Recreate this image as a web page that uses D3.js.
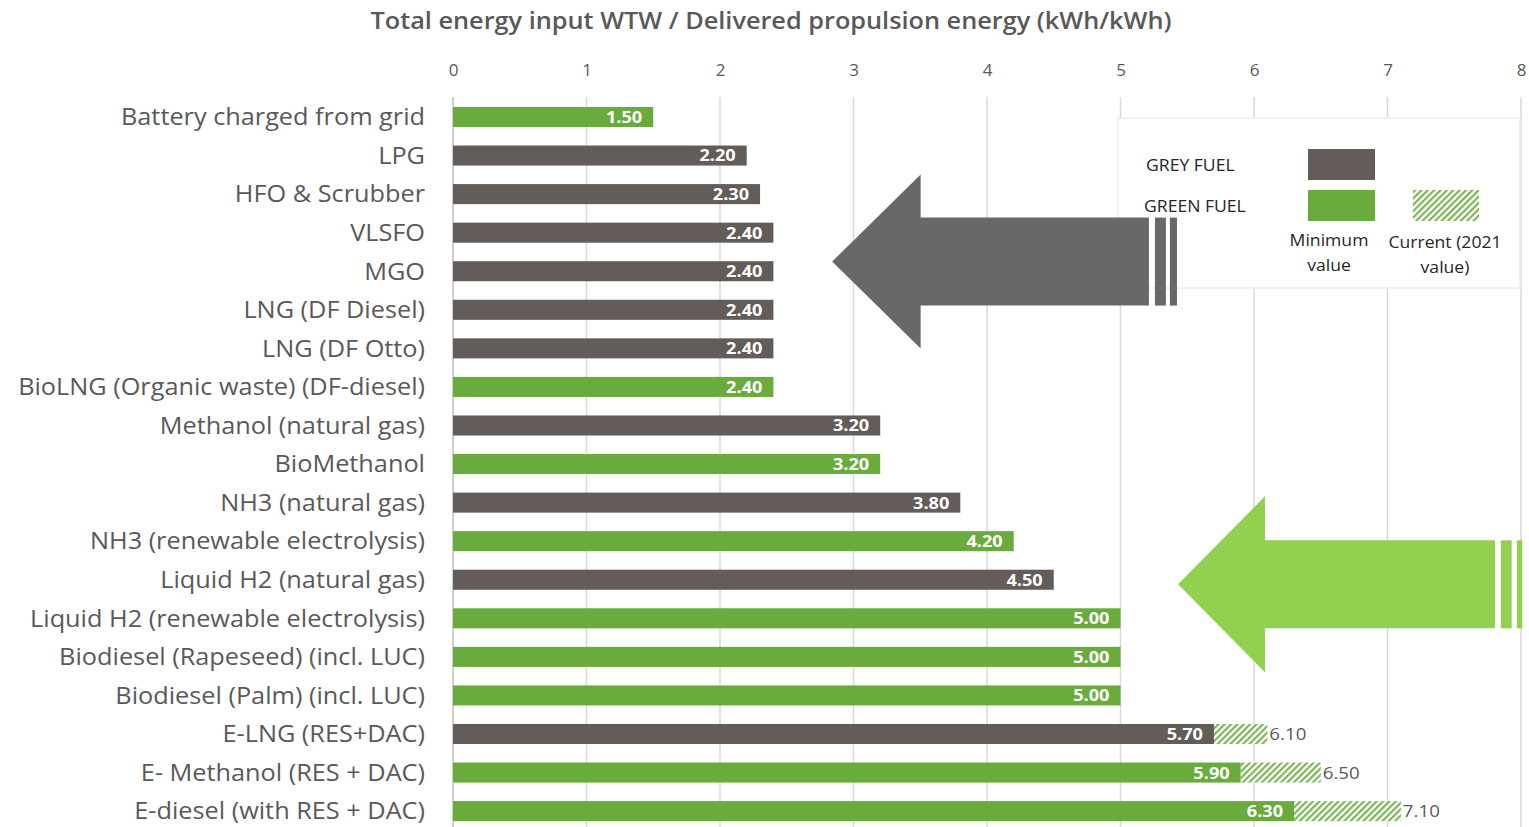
<!DOCTYPE html>
<html>
<head>
<meta charset="utf-8">
<script src="https://cdn.jsdelivr.net/npm/d3@7"></script>
<style>
  body { margin: 0; background: #fff; }
  svg { display: block; font-family: "Open Sans", Lato, sans-serif; }
</style>
</head>
<body>
<svg id="chart" width="1529" height="827"></svg>
<script>
// data
const fuels = [
  "Battery charged from grid", "LPG", "HFO & Scrubber", "VLSFO", "MGO",
  "LNG (DF Diesel)", "LNG (DF Otto)", "BioLNG (Organic waste) (DF-diesel)",
  "Methanol (natural gas)", "BioMethanol", "NH3 (natural gas)",
  "NH3 (renewable electrolysis)", "Liquid H2 (natural gas)",
  "Liquid H2 (renewable electrolysis)", "Biodiesel (Rapeseed) (incl. LUC)",
  "Biodiesel (Palm) (incl. LUC)", "E-LNG (RES+DAC)", "E- Methanol (RES + DAC)",
  "E-diesel (with RES + DAC)"
];
const fuelType = ["green", "grey", "grey", "grey", "grey", "grey", "grey", "green",
  "grey", "green", "grey", "green", "grey", "green", "green", "green",
  "grey", "green", "green"];
const minValue = [1.5, 2.2, 2.3, 2.4, 2.4, 2.4, 2.4, 2.4, 3.2, 3.2, 3.8, 4.2, 4.5,
  5.0, 5.0, 5.0, 5.7, 5.9, 6.3];
const currentValue = [null, null, null, null, null, null, null, null, null, null,
  null, null, null, null, null, null, 6.1, 6.5, 7.1];
const xTicks = [0, 1, 2, 3, 4, 5, 6, 7, 8];

const colors = { grey: "#635c58", green: "#6aab3e" };
const textCol = "#595959";
const stretchX = 1.1; // the source text is a bit wider than the fonts we have

const svg = d3.select("#chart");

const x = d3.scaleLinear().domain([0, 8]).range([453, 1521]);
const y = d3.scaleBand().domain(fuels).range([97.7, 830.4])
  .paddingInner(0.48).paddingOuter(0.24);

// move x/y into a transform so the text can be widened in place
function stretch(sel) {
  sel.each(function () {
    const t = d3.select(this);
    const tx = +t.attr("x") || 0, ty = +t.attr("y") || 0;
    t.attr("x", 0).attr("y", 0)
      .attr("transform", `translate(${tx},${ty}) scale(${stretchX},1)`);
  });
}

// hatch pattern for "current" values
const defs = svg.append("defs");
defs.append("pattern")
  .attr("id", "hatch")
  .attr("patternUnits", "userSpaceOnUse")
  .attr("width", 4.5).attr("height", 4.5)
  .attr("patternTransform", "rotate(45)")
  .call(p => {
    p.append("rect").attr("width", 4.5).attr("height", 4.5).attr("fill", "#fff");
    p.append("rect").attr("width", 2.2).attr("height", 4.5).attr("fill", "#7cb556");
  });

// title
svg.append("text")
  .attr("x", 771).attr("y", 29)
  .attr("text-anchor", "middle")
  .attr("font-size", 23).attr("font-weight", 600)
  .attr("fill", textCol)
  .text("Total energy input WTW / Delivered propulsion energy (kWh/kWh)")
  .call(stretch);

// grid lines
svg.append("g")
  .selectAll("line")
  .data(xTicks)
  .enter().append("line")
  .attr("x1", d => x(d)).attr("x2", d => x(d))
  .attr("y1", 97).attr("y2", 827)
  .attr("stroke", d => d === 0 ? "#bfbfbf" : "#d9d9d9")
  .attr("stroke-width", 1.5);

// top axis
const axis = svg.append("g")
  .attr("transform", "translate(0,82)")
  .call(d3.axisTop(x).tickValues(xTicks).tickSize(0).tickPadding(6));
axis.select(".domain").remove();
axis.selectAll("text")
  .attr("font-size", 17).attr("fill", textCol)
  .attr("font-family", "'Open Sans', sans-serif");

// category labels
svg.append("g")
  .selectAll("text")
  .data(fuels)
  .enter().append("text")
  .attr("x", 425)
  .attr("y", d => y(d) + y.bandwidth() / 2)
  .attr("dy", "0.36em")
  .attr("text-anchor", "end")
  .attr("font-size", 23)
  .attr("fill", textCol)
  .text(d => d)
  .call(stretch);

// hatched "current" bars
svg.append("g")
  .selectAll("rect")
  .data(fuels.filter((f, i) => currentValue[i] != null))
  .enter().append("rect")
  .attr("x", d => x(minValue[fuels.indexOf(d)]))
  .attr("y", d => y(d))
  .attr("width", d => x(currentValue[fuels.indexOf(d)]) - x(minValue[fuels.indexOf(d)]))
  .attr("height", y.bandwidth())
  .attr("fill", "url(#hatch)");

svg.append("g")
  .selectAll("text")
  .data(fuels.filter((f, i) => currentValue[i] != null))
  .enter().append("text")
  .attr("x", d => x(currentValue[fuels.indexOf(d)]) + 2)
  .attr("y", d => y(d) + y.bandwidth() / 2)
  .attr("dy", "0.36em")
  .attr("font-size", 17)
  .attr("fill", textCol)
  .text(d => currentValue[fuels.indexOf(d)].toFixed(2))
  .call(stretch);

// min value bars
svg.append("g")
  .selectAll("rect")
  .data(fuels)
  .enter().append("rect")
  .attr("x", x(0))
  .attr("y", d => y(d))
  .attr("width", (d, i) => x(minValue[i]) - x(0))
  .attr("height", y.bandwidth())
  .attr("fill", (d, i) => colors[fuelType[i]]);

svg.append("g")
  .selectAll("text")
  .data(fuels)
  .enter().append("text")
  .attr("x", (d, i) => x(minValue[i]) - 11)
  .attr("y", d => y(d) + y.bandwidth() / 2)
  .attr("dy", "0.36em")
  .attr("text-anchor", "end")
  .attr("font-size", 16.5).attr("font-weight", "bold")
  .attr("fill", "#fff")
  .text((d, i) => minValue[i].toFixed(2))
  .call(stretch);

// legend box
const lg = svg.append("g");
lg.append("rect")
  .attr("x", 1118).attr("y", 118).attr("width", 402).attr("height", 170)
  .attr("fill", "#fff").attr("stroke", "#ececec").attr("stroke-width", 1.5);
lg.append("text").attr("x", 1146).attr("y", 171)
  .attr("font-size", 16).attr("fill", "#262626").text("GREY FUEL").call(stretch);
lg.append("text").attr("x", 1144).attr("y", 212)
  .attr("font-size", 16).attr("fill", "#262626").text("GREEN FUEL").call(stretch);
lg.append("rect").attr("x", 1308).attr("y", 149).attr("width", 67).attr("height", 31)
  .attr("fill", colors.grey);
lg.append("rect").attr("x", 1308).attr("y", 190).attr("width", 67).attr("height", 31)
  .attr("fill", colors.green);
lg.append("rect").attr("x", 1413).attr("y", 190).attr("width", 66).attr("height", 31)
  .attr("fill", "url(#hatch)");
[["Minimum", 1329, 246], ["value", 1329, 271], ["Current (2021", 1445, 248], ["value)", 1445, 273]]
  .forEach(([t, lx, ly]) => {
    lg.append("text").attr("x", lx).attr("y", ly)
      .attr("text-anchor", "middle").attr("font-size", 16)
      .attr("fill", "#262626").text(t).call(stretch);
  });

// block arrows (positions given in chart units)
function blockArrow(tipX, headX, shaftEndX, rowIdx, headHalf, shaftHalf, stripes, fill) {
  const cy = y(fuels[0]) + y.bandwidth() / 2 + y.step() * rowIdx;
  const tx = x(tipX), hx = x(headX), ex = x(shaftEndX);
  const pts = [[tx, cy], [hx, cy - headHalf], [hx, cy - shaftHalf], [ex, cy - shaftHalf],
    [ex, cy + shaftHalf], [hx, cy + shaftHalf], [hx, cy + headHalf]];
  const g = svg.append("g");
  g.append("path").attr("d", d3.line()(pts) + "Z").attr("fill", fill);
  stripes.forEach(([a, b]) => {
    g.append("rect").attr("x", x(a)).attr("width", x(b) - x(a))
      .attr("y", cy - shaftHalf).attr("height", shaftHalf * 2).attr("fill", fill);
  });
}
blockArrow(2.84, 3.503, 5.213, 3.75, 87, 44, [[5.258, 5.34], [5.37, 5.423]], "#686868");
blockArrow(5.431, 6.082, 7.805, 12.12, 88, 44, [[7.85, 7.93], [7.97, 8.01]], "#92d050");
</script>
</body>
</html>
